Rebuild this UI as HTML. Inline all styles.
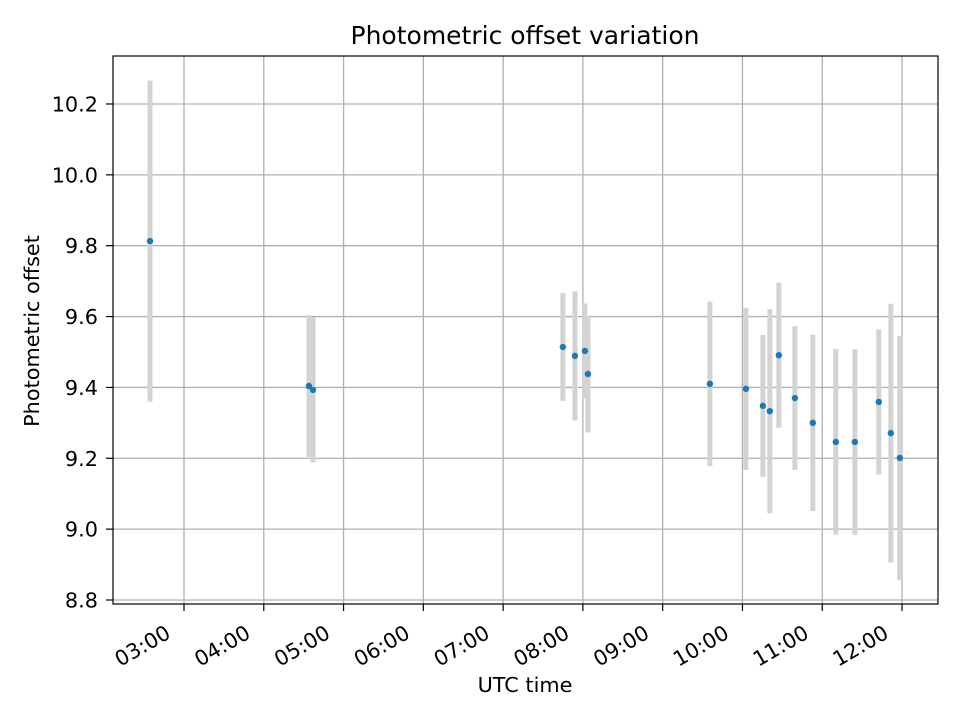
<!DOCTYPE html>
<html><head><meta charset="utf-8"><style>
body{margin:0;background:#fff}
svg{display:block;font-family:"DejaVu Sans","Liberation Sans",sans-serif}
</style></head><body>
<svg id="chart" width="960" height="720" viewBox="0 0 960 720">
<rect width="960" height="720" fill="#fff"/>
<text x="525" y="44" font-size="25" text-anchor="middle" fill="#000">Photometric offset variation</text>
<g id="grid"></g>
<g id="bars"></g>
<g id="pts"></g>
<rect x="113" y="56" width="825" height="548" fill="none" stroke="#000" stroke-width="1.2"/>
<g id="ticks"></g>
<text x="525" y="692" font-size="20.8" text-anchor="middle">UTC time</text>
<text transform="translate(39,331) rotate(-90)" font-size="20.8" text-anchor="middle">Photometric offset</text>
</svg>
<script>
const times = [2.574,4.566,4.617,7.749,7.900,8.025,8.063,9.592,10.043,10.256,10.343,10.456,10.657,10.882,11.170,11.409,11.709,11.860,11.972];
const values = [9.813,9.404,9.393,9.514,9.489,9.503,9.438,9.410,9.396,9.348,9.333,9.491,9.370,9.300,9.246,9.246,9.359,9.271,9.201];
const errors = [0.453,0.200,0.205,0.152,0.182,0.134,0.165,0.232,0.229,0.200,0.288,0.205,0.203,0.249,0.262,0.262,0.205,0.365,0.345];
const yTicks = [8.8,9.0,9.2,9.4,9.6,9.8,10.0,10.2];
const xTicks = [3,4,5,6,7,8,9,10,11,12];
const xTickLabels = ["03:00","04:00","05:00","06:00","07:00","08:00","09:00","10:00","11:00","12:00"];

const L=113,R=938,T=56,B=604;
const xs = t => 184 + (t-3)*79.78;
const ys = v => 600 - (v-8.8)*354.3;
const NS="http://www.w3.org/2000/svg";
function mk(tag, parent, attrs){const e=document.createElementNS(NS,tag);for(const k in attrs)e.setAttribute(k,attrs[k]);parent.appendChild(e);return e;}
const grid=document.getElementById('grid'),bars=document.getElementById('bars'),pts=document.getElementById('pts'),ticks=document.getElementById('ticks');
xTicks.forEach((t,i)=>{
  const x=xs(t);
  const g=mk('line',grid,{x1:x,x2:x,y1:T,y2:B,stroke:'#b0b0b0','stroke-width':1.3});
  
  
  const tk=mk('line',ticks,{x1:x,x2:x,y1:B,y2:B+7,stroke:'#000','stroke-width':1.2});
  
  
  const tx=mk('text',ticks,{transform:`translate(${x-12},637) rotate(-30)`,'text-anchor':'end','font-size':20.8});
  tx.textContent=xTickLabels[i];
  
  
});
yTicks.forEach(v=>{
  const y=ys(v);
  const g=mk('line',grid,{x1:L,x2:R,y1:y,y2:y,stroke:'#b0b0b0','stroke-width':1.3});
  
  
  const tk=mk('line',ticks,{x1:L-7,x2:L,y1:y,y2:y,stroke:'#000','stroke-width':1.2});
  
  
  const tx=mk('text',ticks,{x:L-15,y:y+7.5,'text-anchor':'end','font-size':20.8});
  tx.textContent=v.toFixed(1);
  
  
});
times.forEach((t,i)=>{
  const x=xs(t);
  const b=mk('line',bars,{x1:x,x2:x,y1:ys(values[i]+errors[i]),y2:ys(values[i]-errors[i]),stroke:'#d3d3d3','stroke-width':5});
  
  
  const c=mk('circle',pts,{cx:x,cy:ys(values[i]),r:3.2,fill:'#1f77b4'});
  
  
});
</script>
</body></html>
